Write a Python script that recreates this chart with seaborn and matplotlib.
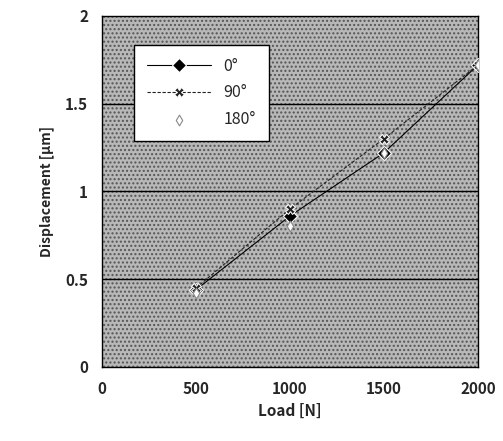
import numpy as np
import pandas as pd
import seaborn as sns
import matplotlib.pyplot as plt
from matplotlib.patches import Rectangle

# ===== data =====
load = [500, 1000, 1500, 2000]
disp_0 = [0.44, 0.86, 1.22, 1.72]
disp_90 = [0.45, 0.90, 1.30, 1.72]
disp_180 = [0.42, 0.80, 1.22, 1.72]
angles = ["0°", "90°", "180°"]

df = pd.DataFrame({
    "Load": load * 3,
    "Displacement": disp_0 + disp_90 + disp_180,
    "angle": np.repeat(angles, len(load)),
})

sns.set_style("white")
plt.rcParams['font.family'] = ['Noto Sans CJK JP', 'DejaVu Sans']

fig = plt.figure(figsize=(5.03, 4.41), dpi=100)
ax = fig.add_axes([0.203, 0.168, 0.747, 0.796])

# dotted grey background like the scanned original
ax.set_facecolor('#b8b8b8')
ax.add_patch(Rectangle((0, 0), 1, 1, transform=ax.transAxes, facecolor='none',
                       edgecolor='#555555', hatch='....', linewidth=0, zorder=0))

for y in [0.5, 1.0, 1.5]:
    ax.axhline(y, color='black', linewidth=1.0, zorder=1)

lines_df = df[df["angle"] != "180°"]
sns.lineplot(data=lines_df, x="Load", y="Displacement", hue="angle", style="angle",
             hue_order=angles[:2], style_order=angles[:2],
             palette={"0°": "black", "90°": "#222222"},
             dashes={"0°": (None, None), "90°": (3, 1.5)},
             markers={"0°": "D", "90°": "X"},
             markersize=7, linewidth=0.8, ax=ax, zorder=3)

# 180° series only as small open markers
sns.scatterplot(data=df[df["angle"] == "180°"], x="Load", y="Displacement",
                marker="d", s=30, color="white", edgecolor="#888888",
                linewidth=0.8, label="180°", ax=ax, zorder=4)

ax.set_xlim(0, 2000)
ax.set_ylim(0, 2)
ax.set_xticks([0, 500, 1000, 1500, 2000])
ax.set_yticks([0, 0.5, 1, 1.5, 2])
ax.set_yticklabels(["0", "0.5", "1", "1.5", "2"])
ax.tick_params(labelsize=11, length=0, pad=10)
for lab in ax.get_xticklabels() + ax.get_yticklabels():
    lab.set_fontweight('bold')

ax.set_xlabel("Load [N]", fontsize=11, fontweight='bold', labelpad=4)
ax.set_ylabel("Displacement [μm]", fontsize=10, fontweight='bold', labelpad=8)

for sp in ax.spines.values():
    sp.set_color('black')
    sp.set_linewidth(1.0)

leg = ax.legend(loc='upper left', bbox_to_anchor=(0.085, 0.917), frameon=True,
                fancybox=False, edgecolor='black', framealpha=1, fontsize=11.5,
                handlelength=4.0, borderpad=0.8, labelspacing=0.6,
                borderaxespad=0)
leg.get_frame().set_linewidth(1.0)

fig.savefig("out.png", dpi=100)
